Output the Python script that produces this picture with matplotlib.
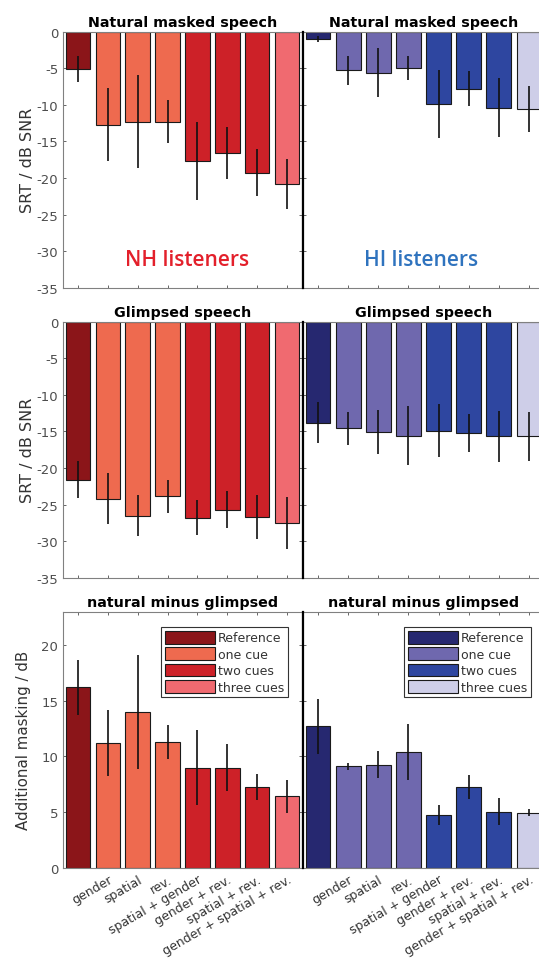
import matplotlib.pyplot as plt
from matplotlib.patches import Patch

# conditions (first bar = reference, no tick label)
cond_labels = ["", "gender", "spatial", "rev.", "spatial + gender",
               "gender + rev.", "spatial + rev.", "gender + spatial + rev."]
cue_group = [0, 1, 1, 1, 2, 2, 2, 3]
group_names = ["Reference", "one cue", "two cues", "three cues"]

nh_colors = ["#8B1519", "#EE6A4F", "#CD2128", "#F06A70"]
hi_colors = ["#262870", "#6F68AE", "#2E46A0", "#CECEE8"]

# SRTs, natural masked speech
nh_natural = [-5.1, -12.7, -12.3, -12.3, -17.7, -16.6, -19.3, -20.8]
nh_natural_err = [1.8, 5.0, 6.3, 2.9, 5.3, 3.6, 3.2, 3.4]
hi_natural = [-1.05, -5.3, -5.6, -5.0, -9.9, -7.8, -10.4, -10.6]
hi_natural_err = [0.4, 2.0, 3.4, 1.6, 4.6, 2.4, 4.0, 3.1]

# SRTs, glimpsed speech
nh_glimpsed = [-21.6, -24.2, -26.5, -23.9, -26.8, -25.7, -26.7, -27.5]
nh_glimpsed_err = [2.55, 3.5, 2.8, 2.25, 2.4, 2.5, 2.95, 3.55]
hi_glimpsed = [-13.8, -14.6, -15.1, -15.6, -14.9, -15.2, -15.7, -15.7]
hi_glimpsed_err = [2.85, 2.25, 3.0, 4.0, 3.65, 2.6, 3.5, 3.3]

# additional masking (natural minus glimpsed)
nh_diff = [16.2, 11.2, 14.0, 11.3, 9.0, 9.0, 7.25, 6.4]
nh_diff_err = [2.5, 2.95, 5.1, 1.5, 3.4, 2.1, 1.15, 1.5]
hi_diff = [12.7, 9.1, 9.25, 10.4, 4.75, 7.25, 5.05, 4.95]
hi_diff_err = [2.45, 0.33, 1.2, 2.55, 0.9, 1.1, 1.2, 0.3]

plt.rcParams["font.family"] = ["DejaVu Sans"]
plt.rcParams["axes.unicode_minus"] = False
tick_col = "#4d4d4d"
spine_col = "#808080"

fig = plt.figure(figsize=(5.39, 9.7), dpi=100)

rows = [(0.7024, "Natural masked speech", nh_natural, nh_natural_err, hi_natural, hi_natural_err),
        (0.4034, "Glimpsed speech", nh_glimpsed, nh_glimpsed_err, hi_glimpsed, hi_glimpsed_err),
        (0.1044, "natural minus glimpsed", nh_diff, nh_diff_err, hi_diff, hi_diff_err)]
h = 0.2640
lefts = [63 / 539, 303 / 539]
widths = [239 / 539, 241 / 539]

x = list(range(1, 9))
for r, (bottom, title, nh, nh_e, hi, hi_e) in enumerate(rows):
    for c, (vals, errs, cols) in enumerate([(nh, nh_e, nh_colors), (hi, hi_e, hi_colors)]):
        ax = fig.add_axes([lefts[c], bottom, widths[c], h])
        ax.bar(x, vals, width=0.82, color=[cols[g] for g in cue_group],
               edgecolor="#1a1a1a", linewidth=0.8, zorder=2)
        ax.errorbar(x, vals, yerr=errs, fmt="none", ecolor="#111111",
                    elinewidth=1.2, capsize=0, zorder=3)
        ax.set_xlim(0.5, 8.5)
        if r < 2:
            ax.set_ylim(-35, 0)
            ax.set_yticks(range(-35, 1, 5))
        else:
            ax.set_ylim(0, 23)
            ax.set_yticks([0, 5, 10, 15, 20])
        ax.set_xticks(x)
        ax.tick_params(direction="in", top=True, right=True, length=2.5,
                       width=0.6, colors=tick_col, labelsize=9.5)
        for s in ax.spines.values():
            s.set_color(spine_col)
            s.set_linewidth(0.8)
        ax.set_title(title, fontsize=10.3, fontweight="bold", pad=4)
        if c == 0:
            if r < 2:
                ax.set_ylabel("SRT / dB SNR", fontsize=11.5, color="#333333", labelpad=1)
            else:
                ax.set_ylabel("Additional masking / dB", fontsize=10.8, color="#333333", labelpad=7)
        else:
            ax.set_yticklabels([])
            ax.spines["left"].set_color("black")
            ax.spines["left"].set_linewidth(1.6)
            ax.spines["left"].set_zorder(5)
        if r == 2:
            ax.set_xticklabels(cond_labels, rotation=30, ha="right",
                               rotation_mode="anchor", fontsize=9, color="#333333")
            handles = [Patch(facecolor=cols[i], edgecolor="#1a1a1a", linewidth=0.8)
                       for i in range(4)]
            leg = ax.legend(handles, group_names, loc="upper right",
                            bbox_to_anchor=(0.94 if c == 0 else 0.945, 0.94), fontsize=9,
                            fancybox=False, edgecolor="#333333", framealpha=1,
                            handlelength=4.0, handleheight=1.2, handletextpad=0.2,
                            labelspacing=0.22, borderpad=0.3, borderaxespad=0)
            leg.get_frame().set_linewidth(0.8)
            for t in leg.get_texts():
                t.set_color("#333333")
        else:
            ax.set_xticklabels([])
        if r == 0:
            if c == 0:
                ax.text(0.52, 0.11, "NH listeners", transform=ax.transAxes, ha="center",
                        va="center", fontsize=15, fontweight="semibold",
                        color="#E3202B", family="Open Sans")
            else:
                ax.text(0.49, 0.11, "HI listeners", transform=ax.transAxes, ha="center",
                        va="center", fontsize=15, fontweight="semibold",
                        color="#2F73BE", family="Open Sans")

fig.savefig("out.png", dpi=100)
plt.close(fig)
